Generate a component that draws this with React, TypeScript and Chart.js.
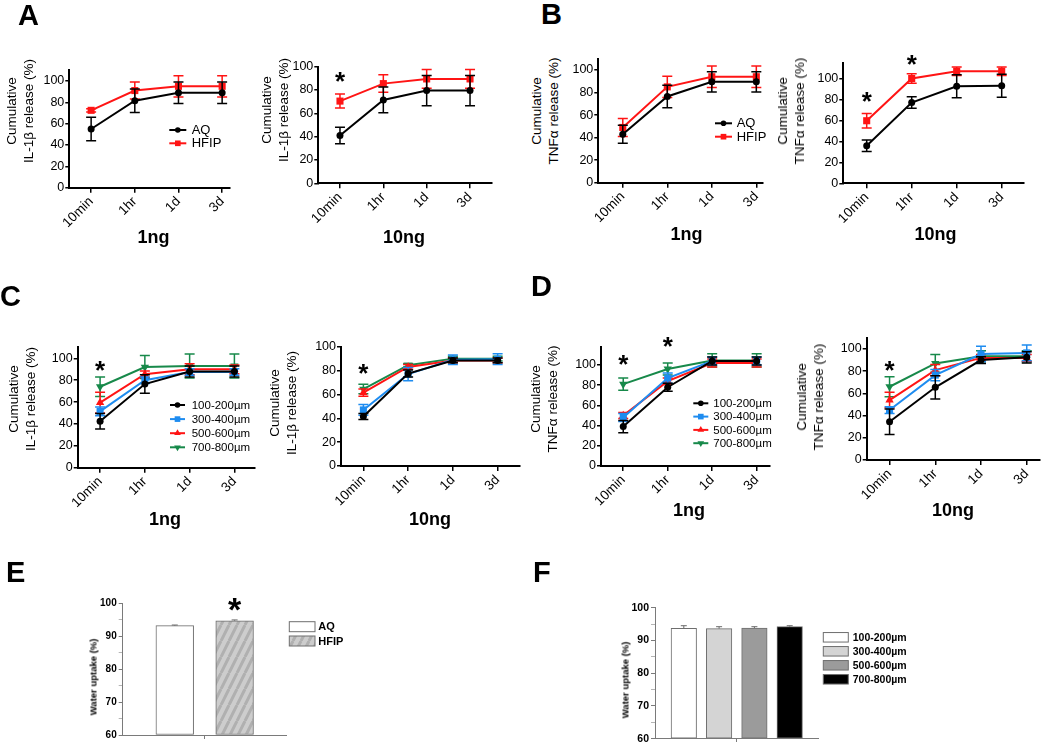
import React, { useEffect, useRef } from 'react';
import { Chart, registerables } from 'chart.js';

Chart.register(...registerables);

const FONT = '"Liberation Sans", Arial, Helvetica, sans-serif';

// ---------- categories & ticks ----------
const timeLabels = ['10min', '1hr', '1d', '3d'];
const releaseTicks = [0, 20, 40, 60, 80, 100];
const uptakeTicks = [60, 65, 70, 75, 80, 85, 90, 95, 100];
const solventLabels = ['AQ', 'HFIP'];
const sizeLabels = ['100-200µm', '300-400µm', '500-600µm', '700-800µm'];

// ---------- A: IL-1β, AQ vs HFIP ----------
const a1ngAQ = [55, 81.5, 89, 89];
const a1ngAQErr = [11, 11, 10, 10];
const a1ngHFIP = [72.5, 91, 95, 95];
const a1ngHFIPErr = [1.5, 8, 10, 10];
const a10ngAQ = [41, 71.5, 79.5, 79.5];
const a10ngAQErr = [7, 11, 13, 13];
const a10ngHFIP = [70.5, 85.5, 89.5, 89.5];
const a10ngHFIPErr = [6, 7.5, 8, 8];
const a10ngStarAt = [0];
const a10ngStarY = [93];

// ---------- B: TNFα, AQ vs HFIP ----------
const b1ngAQ = [43, 76.5, 89.5, 89.5];
const b1ngAQErr = [8, 10, 9, 9];
const b1ngHFIP = [49, 85, 94, 94];
const b1ngHFIPErr = [8, 9.5, 9.5, 9.5];
const b10ngAQ = [36, 77.5, 93, 93.5];
const b10ngAQErr = [5.5, 5.5, 11, 11];
const b10ngHFIP = [60, 100.5, 107.5, 107.5];
const b10ngHFIPErr = [7, 4.5, 4, 4];
const b10ngStarAt = [0, 1];
const b10ngStarY = [85, 120];

// ---------- C: IL-1β by fibre size ----------
const c1ng100 = [42.5, 76.5, 88, 88];
const c1ng100Err = [7, 8.5, 5, 5];
const c1ng300 = [51.5, 80, 87.5, 87.5];
const c1ng300Err = [4, 3, 3, 3];
const c1ng500 = [59.5, 85.5, 90, 90];
const c1ng500Err = [9.5, 3, 5, 4];
const c1ng700 = [74, 92, 93, 93];
const c1ng700Err = [9, 10.5, 11, 11];
const c1ngStarAt = [0];
const c1ngStarY = [94.5];

const c10ng100 = [41.5, 77.5, 88.5, 88.5];
const c10ng100Err = [2.5, 3, 2, 2];
const c10ng300 = [47, 77, 89, 89.5];
const c10ng300Err = [4.5, 5.5, 4, 4.5];
const c10ng500 = [61.5, 83, 88.5, 88.5];
const c10ng500Err = [3, 2, 2, 2];
const c10ng700 = [64.5, 84.5, 90, 90];
const c10ng700Err = [4, 1.5, 2, 2];
const c10ngStarAt = [0];
const c10ngStarY = [83];

// ---------- D: TNFα by fibre size ----------
const d1ng100 = [39, 78, 104, 104];
const d1ng100Err = [6, 4, 4, 4];
const d1ng300 = [48, 87, 104, 104];
const d1ng300Err = [4, 5, 4, 4];
const d1ng500 = [50, 84, 102, 102];
const d1ng500Err = [3, 3, 4, 4];
const d1ng700 = [81, 96, 104.5, 104.5];
const d1ng700Err = [6, 6, 6.5, 6.5];
const d1ngStarAt = [0, 1];
const d1ngStarY = [106.5, 125];

const d10ng100 = [34.5, 65.5, 90, 92.5];
const d10ng100Err = [11.5, 10.5, 3, 5];
const d10ng300 = [45, 76.5, 95.5, 96.5];
const d10ng300Err = [3, 5, 7, 7];
const d10ng500 = [54, 81, 92, 92];
const d10ng500Err = [7, 5, 3, 3];
const d10ng700 = [66, 87, 93.5, 93.5];
const d10ng700Err = [9, 8, 5, 5];
const d10ngStarAt = [0];
const d10ngStarY = [87];

// ---------- E / F: water uptake ----------
const eUptake = [93.2, 94.7];
const eUptakeErr = [0.2, 0.25];
const eStarAt = [2];
const eStarY = [100.5];
const fUptake = [93.7, 93.6, 93.8, 94.2];
const fUptakeErr = [0.8, 0.6, 0.4, 0.3];

// ---------- styles ----------
const BLACK = '#000000';
const RED = '#ff1414';
const BLUE = '#1e8cf0';
const GREEN = '#17894a';

type Shape = 'circle' | 'rect' | 'triangle' | 'triangleDown';
interface Series { label: string; data: number[]; err: number[]; color: string; shape: Shape; }
interface LegendSpec { dx: number; dy: number; gap: number; size: number; lineLen: number; textDx: number; }
interface LineSpec {
  area: number[]; xRange: number[]; yMax: number; series: Series[];
  starAt: number[]; starY: number[]; legend?: LegendSpec;
}

const solventSeries = (aq: number[], aqE: number[], hf: number[], hfE: number[]): Series[] => [
  { label: solventLabels[0], data: aq, err: aqE, color: BLACK, shape: 'circle' },
  { label: solventLabels[1], data: hf, err: hfE, color: RED, shape: 'rect' },
];
const sizeSeries = (s: number[][]): Series[] => [
  { label: sizeLabels[0], data: s[0], err: s[1], color: BLACK, shape: 'circle' },
  { label: sizeLabels[1], data: s[2], err: s[3], color: BLUE, shape: 'rect' },
  { label: sizeLabels[2], data: s[4], err: s[5], color: RED, shape: 'triangle' },
  { label: sizeLabels[3], data: s[6], err: s[7], color: GREEN, shape: 'triangleDown' },
];

const chartA1: LineSpec = {
  area: [69.3, 70.3, 230, 187.7], xRange: [-0.5, 3.18], yMax: 110,
  series: solventSeries(a1ngAQ, a1ngAQErr, a1ngHFIP, a1ngHFIPErr), starAt: [], starY: [],
  legend: { dx: 100, dy: 59.7, gap: 13.3, size: 13, lineLen: 17, textDx: 22.4 },
};
const chartA10: LineSpec = {
  area: [318.3, 66.7, 491.7, 183.3], xRange: [-0.5, 3.5], yMax: 100,
  series: solventSeries(a10ngAQ, a10ngAQErr, a10ngHFIP, a10ngHFIPErr), starAt: a10ngStarAt, starY: a10ngStarY,
};
const chartB1: LineSpec = {
  area: [598.3, 58.7, 763, 182.7], xRange: [-0.55, 3.15], yMax: 110,
  series: solventSeries(b1ngAQ, b1ngAQErr, b1ngHFIP, b1ngHFIPErr), starAt: [], starY: [],
  legend: { dx: 116.7, dy: 64.6, gap: 13.4, size: 13, lineLen: 17, textDx: 21.7 },
};
const chartB10: LineSpec = {
  area: [843.3, 63.4, 1023.3, 183.3], xRange: [-0.52, 3.48], yMax: 115,
  series: solventSeries(b10ngAQ, b10ngAQErr, b10ngHFIP, b10ngHFIPErr), starAt: b10ngStarAt, starY: b10ngStarY,
};
const chartC1: LineSpec = {
  area: [77.7, 347.4, 255, 467.7], xRange: [-0.5, 3.46], yMax: 110,
  series: sizeSeries([c1ng100, c1ng100Err, c1ng300, c1ng300Err, c1ng500, c1ng500Err, c1ng700, c1ng700Err]),
  starAt: c1ngStarAt, starY: c1ngStarY,
  legend: { dx: 92.3, dy: 57.6, gap: 14.1, size: 11.5, lineLen: 15, textDx: 21.7 },
};
const chartC10: LineSpec = {
  area: [341, 346.7, 520, 466], xRange: [-0.5, 3.5], yMax: 100,
  series: sizeSeries([c10ng100, c10ng100Err, c10ng300, c10ng300Err, c10ng500, c10ng500Err, c10ng700, c10ng700Err]),
  starAt: c10ngStarAt, starY: c10ngStarY,
};
const chartD1: LineSpec = {
  area: [601, 346.8, 770, 466], xRange: [-0.5, 3.3], yMax: 118,
  series: sizeSeries([d1ng100, d1ng100Err, d1ng300, d1ng300Err, d1ng500, d1ng500Err, d1ng700, d1ng700Err]),
  starAt: d1ngStarAt, starY: d1ngStarY,
  legend: { dx: 92.3, dy: 56.5, gap: 13.3, size: 11.5, lineLen: 15, textDx: 20 },
};
const chartD10: LineSpec = {
  area: [866.7, 337.9, 1040, 460], xRange: [-0.5, 3.29], yMax: 110,
  series: sizeSeries([d10ng100, d10ng100Err, d10ng300, d10ng300Err, d10ng500, d10ng500Err, d10ng700, d10ng700Err]),
  starAt: d10ngStarAt, starY: d10ngStarY,
};

function markerPath(ctx: CanvasRenderingContext2D, shape: Shape, x: number, y: number, r: number) {
  ctx.beginPath();
  if (shape === 'circle') {
    ctx.arc(x, y, r, 0, Math.PI * 2);
  } else if (shape === 'rect') {
    const s = r * Math.SQRT1_2;
    ctx.rect(x - s, y - s, 2 * s, 2 * s);
  } else {
    const dir = shape === 'triangle' ? 1 : -1;
    for (let k = 0; k < 3; k++) {
      const a = (k * 2 * Math.PI) / 3;
      const px = x + Math.sin(a) * r;
      const py = y - dir * Math.cos(a) * r;
      if (k === 0) ctx.moveTo(px, py); else ctx.lineTo(px, py);
    }
  }
  ctx.closePath();
}

const pointRadius = (s: Shape) => (s === 'circle' ? 3.5 : s === 'rect' ? 5 : 4.8);

function LineChart({ spec }: { spec: LineSpec }) {
  const ref = useRef<HTMLCanvasElement | null>(null);
  const [L, T, R, B] = spec.area;
  const left = Math.round(L - 34);
  const top = Math.round(T - 24);
  const width = Math.round(R + 36 - left);
  const height = Math.round(B + 48 - top);

  useEffect(() => {
    const canvas = ref.current;
    if (!canvas) return;
    const yW = L - left;
    const padTop = T - top;
    const padR = left + width - R;
    const xH = top + height - B;

    const errPlugin = {
      id: 'errBars',
      afterDatasetDraw(chart: any, args: any) {
        const s = spec.series[args.index];
        if (!s) return;
        const ctx = chart.ctx;
        const ys = chart.scales.y;
        const cap = 5;
        ctx.save();
        ctx.strokeStyle = s.color;
        ctx.lineWidth = 1.5;
        args.meta.data.forEach((el: any, j: number) => {
          const x = el.x;
          const yt = ys.getPixelForValue(s.data[j] + s.err[j]);
          const yb = ys.getPixelForValue(s.data[j] - s.err[j]);
          ctx.beginPath();
          ctx.moveTo(x, yt); ctx.lineTo(x, yb);
          ctx.moveTo(x - cap, yt); ctx.lineTo(x + cap, yt);
          ctx.moveTo(x - cap, yb); ctx.lineTo(x + cap, yb);
          ctx.stroke();
        });
        ctx.restore();
      },
    };

    const starPlugin = {
      id: 'stars',
      afterDraw(chart: any) {
        const ctx = chart.ctx;
        const size = 26;
        ctx.save();
        ctx.fillStyle = '#000';
        ctx.font = `bold ${size}px ${FONT}`;
        ctx.textAlign = 'center';
        ctx.textBaseline = 'alphabetic';
        spec.starAt.forEach((xi, k) => {
          ctx.fillText('*', chart.scales.x.getPixelForValue(xi), chart.scales.y.getPixelForValue(spec.starY[k]) + size * 0.58);
        });
        ctx.restore();
      },
    };

    const legendPlugin = {
      id: 'lineLegend',
      afterDraw(chart: any) {
        const lg = spec.legend;
        if (!lg) return;
        const ctx = chart.ctx;
        const { left: cl, top: ct } = chart.chartArea;
        ctx.save();
        spec.series.forEach((s, k) => {
          const y = ct + lg.dy + k * lg.gap;
          const x0 = cl + lg.dx;
          ctx.strokeStyle = s.color;
          ctx.lineWidth = 2;
          ctx.beginPath(); ctx.moveTo(x0, y); ctx.lineTo(x0 + lg.lineLen, y); ctx.stroke();
          ctx.fillStyle = s.color;
          markerPath(ctx, s.shape, x0 + lg.lineLen / 2, y, pointRadius(s.shape) * 0.8);
          ctx.fill();
          ctx.fillStyle = '#000';
          ctx.font = `${lg.size}px ${FONT}`;
          ctx.textAlign = 'left';
          ctx.textBaseline = 'middle';
          ctx.fillText(s.label, x0 + lg.textDx, y + 0.5);
        });
        ctx.restore();
      },
    };

    const chart = new Chart(canvas, {
      type: 'line',
      data: {
        datasets: spec.series.map((s) => ({
          label: s.label,
          data: s.data.map((v, i) => ({ x: i, y: v })),
          borderColor: s.color,
          backgroundColor: s.color,
          borderWidth: 2,
          pointStyle: s.shape === 'circle' ? 'circle' : s.shape === 'rect' ? 'rect' : 'triangle',
          rotation: s.shape === 'triangleDown' ? 180 : 0,
          pointRadius: pointRadius(s.shape),
          pointBorderWidth: 0,
          tension: 0,
          clip: false,
        })),
      },
      options: {
        responsive: false,
        maintainAspectRatio: false,
        animation: false,
        events: [],
        layout: { padding: { top: padTop, right: padR, left: 0, bottom: 0 } },
        plugins: { legend: { display: false }, tooltip: { enabled: false } },
        scales: {
          x: {
            type: 'linear',
            offset: false,
            min: spec.xRange[0],
            max: spec.xRange[1],
            afterFit: (s: any) => { s.height = xH; },
            afterBuildTicks: (s: any) => { s.ticks = timeLabels.map((_, i) => ({ value: i })); },
            ticks: {
              autoSkip: false, maxRotation: 45, minRotation: 45, padding: 1, color: '#000',
              font: { family: FONT, size: 13.5 },
              callback: (v: any) => timeLabels[v] ?? '',
            },
            grid: { drawOnChartArea: false, drawTicks: true, tickLength: 5, color: '#000', lineWidth: 1.5 },
            border: { display: true, color: '#000', width: 2 },
          },
          y: {
            type: 'linear',
            min: 0,
            max: spec.yMax,
            afterFit: (s: any) => { s.width = yW; },
            afterBuildTicks: (s: any) => { s.ticks = releaseTicks.map((v) => ({ value: v })); },
            ticks: { padding: 1, color: '#000', font: { family: FONT, size: 12.5 } },
            grid: { drawOnChartArea: false, drawTicks: true, tickLength: 4, color: '#000', lineWidth: 1.5 },
            border: { display: true, color: '#000', width: 2 },
          },
        },
      } as any,
      plugins: [errPlugin, starPlugin, legendPlugin],
    });
    return () => chart.destroy();
  }, [spec]);

  return <canvas ref={ref} width={width} height={height} style={{ position: 'absolute', left, top, width, height }} />;
}

// ---------- bar charts ----------
interface BarLegend { dx: number; dyCenter: number; gap: number; boxW: number; boxH: number; textDx: number; size: number; }
interface BarSpec {
  area: number[]; xRange: number[]; xTick: number; positions: number[]; values: number[]; errs: number[];
  fills: string[]; labels: string[]; barWidth: number; starAt: number[]; starY: number[]; tickSize: number; legend: BarLegend;
}

const chartE: BarSpec = {
  area: [122.7, 603.3, 286.7, 735], xRange: [0.13, 2.87], xTick: 1.5, positions: [1, 2],
  values: eUptake, errs: eUptakeErr, fills: ['#ffffff', 'hatch'], labels: solventLabels, barWidth: 37.7,
  starAt: eStarAt, starY: eStarY, tickSize: 10,
  legend: { dx: 166.6, dyCenter: 23.4, gap: 14.3, boxW: 25.7, boxH: 10, textDx: 195.6, size: 11 },
};
const chartF: BarSpec = {
  area: [655, 607.7, 818.3, 739], xRange: [0.184, 4.81], xTick: 2.5, positions: [1, 2, 3, 4],
  values: fUptake, errs: fUptakeErr, fills: ['#ffffff', '#d4d4d4', '#9b9b9b', '#000000'], labels: sizeLabels, barWidth: 25.5,
  starAt: [], starY: [], tickSize: 10.5,
  legend: { dx: 168.3, dyCenter: 29.6, gap: 14, boxW: 25, boxH: 9.5, textDx: 197.7, size: 10.5 },
};

function makeHatch(): CanvasPattern | string {
  const c = document.createElement('canvas');
  c.width = 16; c.height = 16;
  const g = c.getContext('2d');
  if (!g) return '#c4c4c4';
  g.fillStyle = '#cdcdcd';
  g.fillRect(0, 0, 16, 16);
  g.strokeStyle = '#b0b0b0';
  g.lineWidth = 3;
  g.beginPath();
  for (let k = -2; k <= 2; k++) {
    g.moveTo(k * 8, 16); g.lineTo(k * 8 + 8, 0);
  }
  g.stroke();
  return g.createPattern(c, 'repeat') || '#c4c4c4';
}

function BarChart({ spec }: { spec: BarSpec }) {
  const ref = useRef<HTMLCanvasElement | null>(null);
  const [L, T, R, B] = spec.area;
  const left = Math.round(L - 30);
  const top = Math.round(T - 26);
  const width = Math.round(R + 110 - left);
  const height = Math.round(B + 8 - top);

  useEffect(() => {
    const canvas = ref.current;
    if (!canvas) return;
    const yW = L - left;
    const padTop = T - top;
    const padR = left + width - R;
    const xH = top + height - B;
    const hatch = makeHatch();
    const fills = spec.fills.map((f) => (f === 'hatch' ? hatch : f));
    const AX = '#7a7a7a';

    const errPlugin = {
      id: 'barErr',
      afterDatasetsDraw(chart: any) {
        const ctx = chart.ctx;
        const ys = chart.scales.y;
        ctx.save();
        ctx.strokeStyle = '#6a6a6a';
        ctx.lineWidth = 1;
        chart.getDatasetMeta(0).data.forEach((el: any, j: number) => {
          const yv = ys.getPixelForValue(spec.values[j]);
          const ye = ys.getPixelForValue(spec.values[j] + spec.errs[j]);
          ctx.beginPath();
          ctx.moveTo(el.x, yv); ctx.lineTo(el.x, ye);
          ctx.moveTo(el.x - 3, ye); ctx.lineTo(el.x + 3, ye);
          ctx.stroke();
        });
        ctx.restore();
      },
      afterDraw(chart: any) {
        const ctx = chart.ctx;
        const { left: cl, top: ct } = chart.chartArea;
        const lg = spec.legend;
        ctx.save();
        spec.labels.forEach((lab, k) => {
          const cy = ct + lg.dyCenter + k * lg.gap;
          ctx.fillStyle = fills[k] as any;
          ctx.fillRect(cl + lg.dx, cy - lg.boxH / 2, lg.boxW, lg.boxH);
          ctx.strokeStyle = '#6e6e6e';
          ctx.lineWidth = 1;
          ctx.strokeRect(cl + lg.dx, cy - lg.boxH / 2, lg.boxW, lg.boxH);
          ctx.fillStyle = '#000';
          ctx.font = `bold ${lg.size}px ${FONT}`;
          ctx.textAlign = 'left';
          ctx.textBaseline = 'middle';
          ctx.fillText(lab, cl + lg.textDx, cy + 0.5);
        });
        const size = 34;
        ctx.font = `bold ${size}px ${FONT}`;
        ctx.textAlign = 'center';
        ctx.textBaseline = 'alphabetic';
        spec.starAt.forEach((xi, k) => {
          ctx.fillText('*', chart.scales.x.getPixelForValue(xi), chart.scales.y.getPixelForValue(spec.starY[k]) + size * 0.58);
        });
        ctx.restore();
      },
    };

    const chart = new Chart(canvas, {
      type: 'bar',
      data: {
        datasets: [{
          data: spec.positions.map((x, i) => ({ x, y: spec.values[i] })),
          backgroundColor: fills as any,
          borderColor: '#6e6e6e',
          borderWidth: 1,
          borderSkipped: false,
          barThickness: spec.barWidth,
          base: 60,
        }],
      },
      options: {
        responsive: false,
        maintainAspectRatio: false,
        animation: false,
        events: [],
        layout: { padding: { top: padTop, right: padR, left: 0, bottom: 0 } },
        plugins: { legend: { display: false }, tooltip: { enabled: false } },
        scales: {
          x: {
            type: 'linear',
            offset: false,
            min: spec.xRange[0],
            max: spec.xRange[1],
            afterFit: (s: any) => { s.height = xH; },
            afterBuildTicks: (s: any) => { s.ticks = [{ value: spec.xTick }]; },
            ticks: { callback: () => '', padding: 0 },
            grid: { offset: false, drawOnChartArea: false, drawTicks: true, tickLength: 4, color: AX, lineWidth: 1 },
            border: { display: true, color: AX, width: 1 },
          },
          y: {
            type: 'linear',
            min: 60,
            max: 100,
            afterFit: (s: any) => { s.width = yW; },
            afterBuildTicks: (s: any) => { s.ticks = uptakeTicks.map((v) => ({ value: v })); },
            ticks: {
              padding: 2, color: '#000',
              font: { family: FONT, size: spec.tickSize, weight: 'bold' },
              callback: (v: any) => (v % 10 === 0 ? String(v) : ''),
            },
            grid: {
              drawOnChartArea: false, drawTicks: true, tickLength: 4, lineWidth: 1,
              tickColor: (c: any) => (c.tick && c.tick.value % 10 === 0 ? AX : '#b5b5b5'),
              color: AX,
            },
            border: { display: true, color: AX, width: 1 },
          },
        },
      } as any,
      plugins: [errPlugin],
    });
    return () => chart.destroy();
  }, [spec]);

  return <canvas ref={ref} width={width} height={height} style={{ position: 'absolute', left, top, width, height }} />;
}

// ---------- text helpers ----------
const base: React.CSSProperties = { position: 'absolute', fontFamily: FONT, color: '#000', whiteSpace: 'nowrap' };

function PanelLetter({ text, x, y }: { text: string; x: number; y: number }) {
  return <div style={{ ...base, left: x, top: y, fontSize: 29, fontWeight: 'bold', lineHeight: '29px' }}>{text}</div>;
}
function YTitle({ lines, cx, cy, size = 13.5, lh = 17, bold = false }: { lines: string[]; cx: number; cy: number; size?: number; lh?: number; bold?: boolean }) {
  return (
    <div style={{ ...base, left: cx, top: cy, transform: 'translate(-50%, -50%) rotate(-90deg)', fontSize: size, lineHeight: `${lh}px`, textAlign: 'center', fontWeight: bold ? 'bold' : 'normal' }}>
      {lines.map((l) => <div key={l}>{l}</div>)}
    </div>
  );
}
function Dose({ text, cx, y }: { text: string; cx: number; y: number }) {
  return <div style={{ ...base, left: cx, top: y, transform: 'translateX(-50%)', fontSize: 18, fontWeight: 'bold', lineHeight: '18px' }}>{text}</div>;
}

const titleIL = ['Cumulative', 'IL-1β release (%)'];
const titleTNF = ['Cumulative', 'TNFα release (%)'];
const titleWater = ['Water uptake (%)'];

export default function App() {
  return (
    <div style={{ position: 'absolute', left: 0, top: 0, width: 1050, height: 742, overflow: 'hidden', background: '#fff' }}>
      <LineChart spec={chartA1} />
      <LineChart spec={chartA10} />
      <LineChart spec={chartB1} />
      <LineChart spec={chartB10} />
      <LineChart spec={chartC1} />
      <LineChart spec={chartC10} />
      <LineChart spec={chartD1} />
      <LineChart spec={chartD10} />
      <BarChart spec={chartE} />
      <BarChart spec={chartF} />

      <YTitle lines={titleIL} cx={19.5} cy={111} />
      <YTitle lines={titleIL} cx={274.6} cy={110} />
      <YTitle lines={titleTNF} cx={544.8} cy={111} />
      <YTitle lines={titleTNF} cx={791.4} cy={111} />
      <YTitle lines={titleIL} cx={21.7} cy={399} />
      <YTitle lines={titleIL} cx={283} cy={403} />
      <YTitle lines={titleTNF} cx={544.3} cy={399} />
      <YTitle lines={titleTNF} cx={809.5} cy={397} />
      <YTitle lines={titleWater} cx={93} cy={677} size={9.5} lh={11} bold />
      <YTitle lines={titleWater} cx={625} cy={680} size={9.5} lh={11} bold />

      <Dose text="1ng" cx={153.5} y={227.6} />
      <Dose text="10ng" cx={404} y={227.6} />
      <Dose text="1ng" cx={686.5} y={224.6} />
      <Dose text="10ng" cx={935.6} y={224.6} />
      <Dose text="1ng" cx={165} y={510} />
      <Dose text="10ng" cx={430} y={510} />
      <Dose text="1ng" cx={689} y={501} />
      <Dose text="10ng" cx={953} y={501} />

      <PanelLetter text="A" x={18} y={1.3} />
      <PanelLetter text="B" x={541} y={-0.4} />
      <PanelLetter text="C" x={0} y={281.5} />
      <PanelLetter text="D" x={531} y={272} />
      <PanelLetter text="E" x={6} y={557.5} />
      <PanelLetter text="F" x={533} y={557.5} />
    </div>
  );
}
